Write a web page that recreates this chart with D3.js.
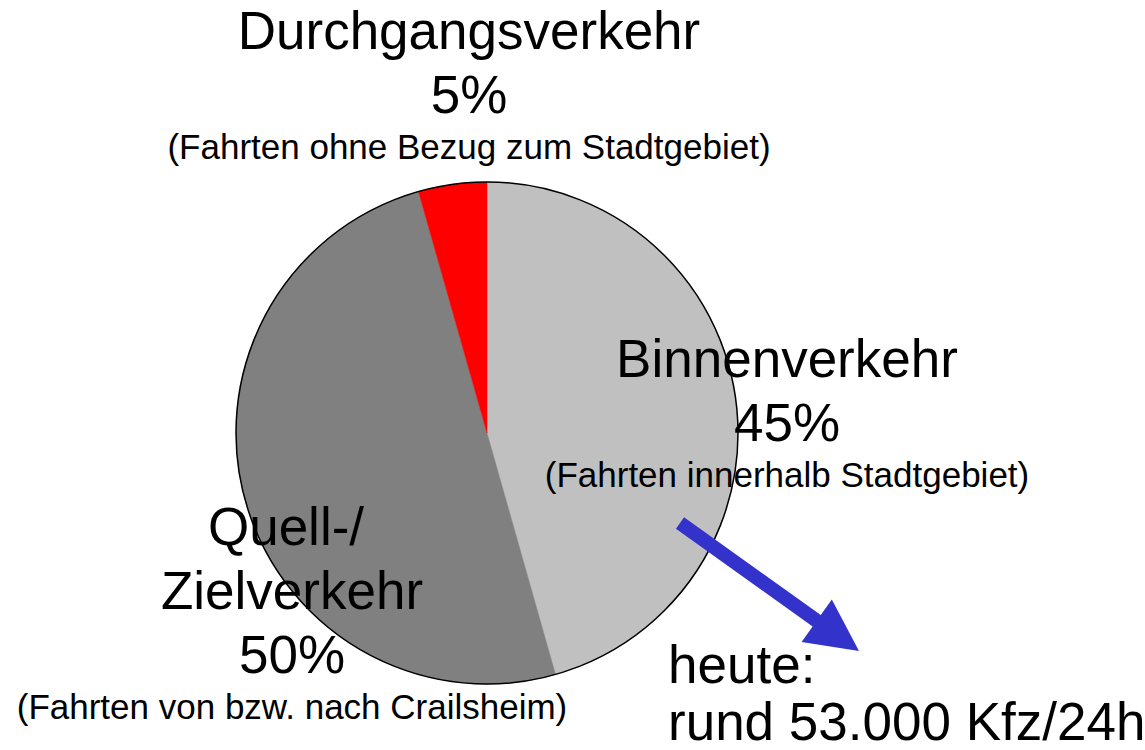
<!DOCTYPE html>
<html>
<head>
<meta charset="utf-8">
<script src="https://cdn.jsdelivr.net/npm/d3@7"></script>
<style>
  body { margin: 0; background: #fff; }
  text { font-family: "Liberation Sans", Arial, sans-serif; fill: #000; }
</style>
</head>
<body>
<div id="chart"></div>
<script>
// Data (shares)
const categories = ["Binnenverkehr", "Quell-/Zielverkehr", "Durchgangsverkehr"];
const values = [45.6, 50, 4.4];
const percentLabels = ["45%", "50%", "5%"];
const notes = [
  "(Fahrten innerhalb Stadtgebiet)",
  "(Fahrten von bzw. nach Crailsheim)",
  "(Fahrten ohne Bezug zum Stadtgebiet)"
];
const titleLines = [["Binnenverkehr"], ["Quell-/", "Zielverkehr"], ["Durchgangsverkehr"]];
const colors = ["#c0c0c0", "#808080", "#ff0000"];
const todayLines = ["heute:", "rund 53.000 Kfz/24h"];

const width = 1145, height = 750;
const cx = 487, cy = 433, radius = 251;

const svg = d3.select("#chart")
    .append("svg")
    .attr("width", width)
    .attr("height", height);

const data = categories.map((c, i) => ({ name: c, value: values[i], i: i }));

const pie = d3.pie().sort(null).value(d => d.value);
const arc = d3.arc().innerRadius(0).outerRadius(radius);

const g = svg.append("g").attr("transform", `translate(${cx},${cy})`);

g.selectAll("path.slice")
    .data(pie(data))
    .enter()
    .append("path")
    .attr("class", "slice")
    .attr("d", arc)
    .attr("fill", d => colors[d.data.i])
    .attr("stroke", d => colors[d.data.i])
    .attr("stroke-width", 0.5);

// outline only on the outer edge
g.append("circle")
    .attr("r", radius)
    .attr("fill", "none")
    .attr("stroke", "#000")
    .attr("stroke-width", 1.5);

// Label blocks: x center, baseline of first line
const labelPos = [
    { x: 787, y: 377 },
    { x: 292, y: 545 },
    { x: 469, y: 49 }
];
const bigSize = 53, smallSize = 35, lineGap = 64;

data.forEach((d, i) => {
    const p = labelPos[i];
    const lines = titleLines[i].concat([percentLabels[i]]);
    lines.forEach((t, k) => {
        svg.append("text")
            .attr("x", k === 0 && i === 1 ? p.x - 6 : p.x)
            .attr("y", p.y + k * lineGap)
            .attr("text-anchor", "middle")
            .attr("font-size", bigSize)
            .text(t);
    });
    svg.append("text")
        .attr("x", p.x)
        .attr("y", p.y + (lines.length - 1) * lineGap + 46)
        .attr("text-anchor", "middle")
        .attr("font-size", smallSize)
        .text(notes[i]);
});

// Arrow
const start = [680, 523], tip = [859, 651];
const shaftW = 14, headLen = 52, headW = 52;
const dx = tip[0] - start[0], dy = tip[1] - start[1];
const len = Math.hypot(dx, dy);
const ux = dx / len, uy = dy / len, px = -uy, py = ux;
const bx = tip[0] - ux * headLen, by = tip[1] - uy * headLen;
const arrowPts = [
    [start[0] + px * shaftW / 2, start[1] + py * shaftW / 2],
    [bx + px * shaftW / 2, by + py * shaftW / 2],
    [bx + px * headW / 2, by + py * headW / 2],
    tip,
    [bx - px * headW / 2, by - py * headW / 2],
    [bx - px * shaftW / 2, by - py * shaftW / 2],
    [start[0] - px * shaftW / 2, start[1] - py * shaftW / 2]
];
svg.append("path")
    .attr("d", d3.line()(arrowPts) + "Z")
    .attr("fill", "#3333cc");

// Today's total
todayLines.forEach((t, k) => {
    svg.append("text")
        .attr("x", 668)
        .attr("y", 683 + k * 57)
        .attr("font-size", bigSize)
        .text(t);
});
</script>
</body>
</html>
